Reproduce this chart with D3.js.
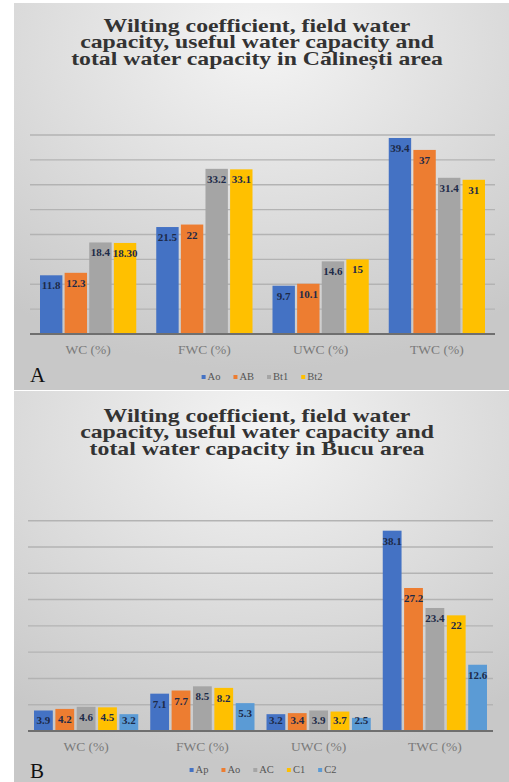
<!DOCTYPE html>
<html>
<head>
<meta charset="utf-8">
<script src="https://cdn.jsdelivr.net/npm/d3@7"></script>
<style>
  body { margin: 0; background: #fff; }
  svg { display: block; }
</style>
</head>
<body>
<svg id="chart" width="509" height="782"></svg>
<script>
// panel A - Calinesti
let catsA = ['WC (%)', 'FWC (%)', 'UWC (%)', 'TWC (%)']
let seriesA = ['Ao', 'AB', 'Bt1', 'Bt2']
let aoA = ['11.8', '21.5', '9.7', '39.4']
let abA = ['12.3', '22', '10.1', '37']
let bt1A = ['18.4', '33.2', '14.6', '31.4']
let bt2A = ['18.30', '33.1', '15', '31']

// panel B - Bucu
let catsB = ['WC (%)', 'FWC (%)', 'UWC (%)', 'TWC (%)']
let seriesB = ['Ap', 'Ao', 'AC', 'C1', 'C2']
let apB = ['3.9', '7.1', '3.2', '38.1']
let aoB = ['4.2', '7.7', '3.4', '27.2']
let acB = ['4.6', '8.5', '3.9', '23.4']
let c1B = ['4.5', '8.2', '3.7', '22']
let c2B = ['3.2', '5.3', '2.5', '12.6']

let yTicks = [0, 5, 10, 15, 20, 25, 30, 35, 40]
let colors = ['#4472C4', '#ED7D31', '#A5A5A5', '#FFC000', '#5B9BD5']
let serif = "'Liberation Serif', 'Times New Roman', serif"

let svg = d3.select('#chart')
let defs = svg.append('defs')
let grad = defs.append('radialGradient')
  .attr('id', 'bg').attr('cx', '50%').attr('cy', '10%').attr('r', '85%')
grad.append('stop').attr('offset', '0%').attr('stop-color', '#f4f4f4')
grad.append('stop').attr('offset', '100%').attr('stop-color', '#c8c8c8')

function drawPanel(p) {
  let g = svg.append('g')
  g.append('rect')
    .attr('x', p.left).attr('y', p.top)
    .attr('width', p.right - p.left).attr('height', p.bottom - p.top)
    .attr('fill', 'url(#bg)')

  // the source figure is squashed vertically, so the title is stretched sideways
  g.append('g')
    .attr('transform', `translate(257,${p.titleY}) scale(1.25,1)`)
    .append('text')
    .attr('text-anchor', 'middle')
    .attr('font-family', serif)
    .attr('font-weight', 'bold')
    .attr('font-size', 19)
    .attr('fill', '#333')
    .selectAll('tspan').data(p.title).enter().append('tspan')
      .attr('x', 0)
      .attr('y', (d, i) => i * 16.7)
      .text(d => d)

  let x0 = d3.scaleBand().domain(p.cats).range([p.x0, p.x1])
  let x1 = d3.scaleBand().domain(p.series)
    .range([p.groupPad, x0.bandwidth() - p.groupPad]).paddingInner(p.barGap)
  let y = d3.scaleLinear().domain([0, 40]).range([p.yBase, p.yTop])

  g.selectAll('line.grid').data(yTicks.slice(1)).enter().append('line')
    .attr('class', 'grid')
    .attr('x1', p.x0).attr('x2', p.x1)
    .attr('y1', d => y(d)).attr('y2', d => y(d))
    .attr('stroke', '#b3b3b3').attr('stroke-width', 1.4)

  let rows = []
  p.values.forEach((vals, si) => {
    vals.forEach((v, ci) => rows.push({ s: p.series[si], c: p.cats[ci], v: +v, label: v, color: colors[si] }))
  })

  let bars = g.selectAll('g.bar').data(rows).enter().append('g').attr('class', 'bar')
  bars.append('rect')
    .attr('x', d => x0(d.c) + x1(d.s))
    .attr('y', d => y(d.v))
    .attr('width', x1.bandwidth())
    .attr('height', d => y(0) - y(d.v))
    .attr('fill', d => d.color)
  bars.append('text')
    .attr('x', d => x0(d.c) + x1(d.s) + x1.bandwidth() / 2)
    .attr('y', d => Math.min(y(d.v) + p.labelDy, y(0) - 7.5))
    .attr('text-anchor', 'middle')
    .attr('font-family', serif)
    .attr('font-weight', 'bold')
    .attr('font-size', 11)
    .attr('fill', '#1d2a48')
    .text(d => d.label)

  g.append('line')
    .attr('x1', p.x0).attr('x2', p.x1)
    .attr('y1', y(0)).attr('y2', y(0))
    .attr('stroke', '#6f6f6f').attr('stroke-width', 2)

  let axis = g.append('g').attr('transform', `translate(0,${y(0)})`)
    .call(d3.axisBottom(x0).tickSize(0).tickPadding(p.tickPad))
  axis.select('.domain').remove()
  axis.selectAll('text')
    .attr('font-family', serif)
    .attr('font-size', 13.5)
    .attr('fill', '#7a7a7a')

  g.append('text')
    .attr('x', 30).attr('y', p.letterY)
    .attr('font-family', serif)
    .attr('font-size', 21)
    .attr('fill', '#111')
    .text(p.letter)

  // legend
  let lg = g.append('g')
  let items = lg.selectAll('g').data(p.series).enter().append('g')
  items.append('rect')
    .attr('width', 4).attr('height', 4)
    .attr('y', -5)
    .attr('fill', (d, i) => colors[i])
  items.append('text')
    .attr('x', 6)
    .attr('font-family', serif)
    .attr('font-size', 10.5)
    .attr('fill', '#555')
    .text(d => d)
  let xpos = 0
  items.each(function () {
    d3.select(this).attr('transform', `translate(${xpos},0)`)
    xpos += this.getBBox().width + 13
  })
  let w = xpos - 13
  lg.attr('transform', `translate(${p.legendCx - w / 2},${p.legendY})`)
}

drawPanel({
  left: 14, right: 509, top: 3, bottom: 390,
  title: ['Wilting coefficient, field water', 'capacity, useful water capacity and', 'total water capacity in Călinești area'],
  titleY: 31.5,
  cats: catsA, series: seriesA, values: [aoA, abA, bt1A, bt2A],
  x0: 30, x1: 495, yBase: 334, yTop: 135,
  groupPad: 10, barGap: 0.09, labelDy: 14,
  tickPad: 10, letter: 'A', letterY: 382,
  legendCx: 262, legendY: 380
})

drawPanel({
  left: 14, right: 509, top: 391, bottom: 782,
  title: ['Wilting coefficient, field water', 'capacity, useful water capacity and', 'total water capacity in Bucu area'],
  titleY: 421.5,
  cats: catsB, series: seriesB, values: [apB, aoB, acB, c1B, c2B],
  x0: 28, x1: 493, yBase: 731, yTop: 520.7,
  groupPad: 6, barGap: 0.12, labelDy: 14,
  tickPad: 10, letter: 'B', letterY: 778,
  legendCx: 263, legendY: 773
})
</script>
</body>
</html>
